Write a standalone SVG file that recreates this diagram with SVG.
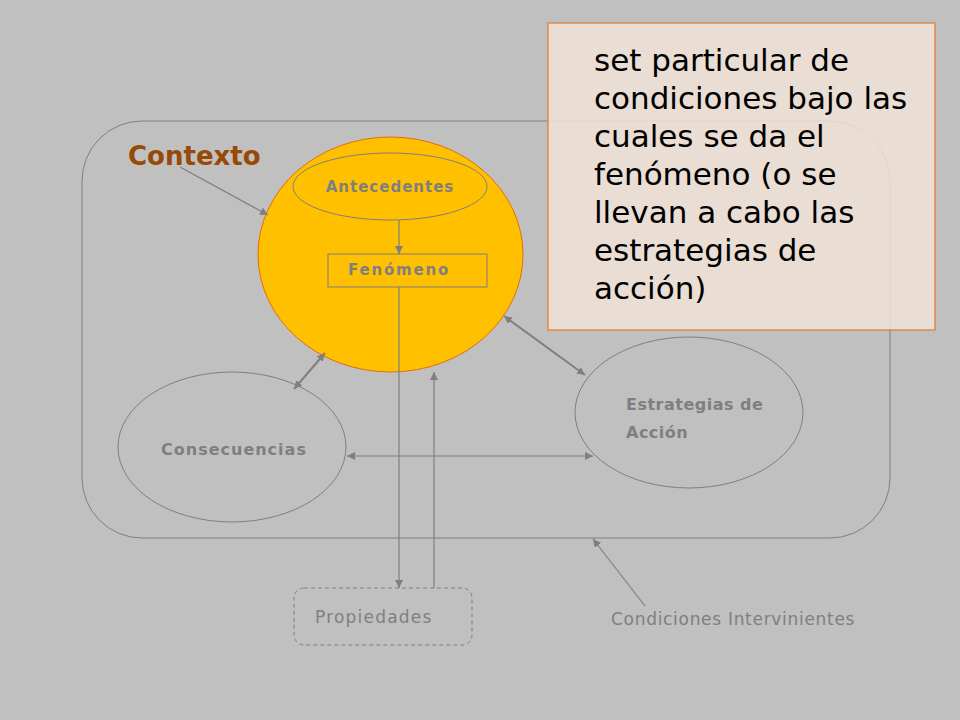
<svg xmlns="http://www.w3.org/2000/svg" width="960" height="720" viewBox="0 0 960 720">
<defs>
<marker id="ah" viewBox="0 0 10 10" refX="10" refY="5" markerWidth="8" markerHeight="8" markerUnits="userSpaceOnUse" orient="auto-start-reverse">
<path d="M0,0 L10,5 L0,10 z" fill="#7F7F7F"/>
</marker>
<style>
.ln{stroke:#7F7F7F;stroke-width:1.2;fill:none}
.lnb{stroke:#7F7F7F;stroke-width:2;fill:none}
.sh{stroke:#7F7F7F;stroke-width:1;fill:none}
.lb{font-family:"DejaVu Sans",sans-serif;font-weight:bold;fill:#7F7F7F}
.lt{font-family:"DejaVu Sans",sans-serif;fill:#7F7F7F}
</style>
</defs>
<rect width="960" height="720" fill="#C0C0C0"/>
<g id="contexto">
<rect x="82" y="121" width="808" height="417" rx="60" ry="60" class="sh"/>
<text x="128" y="165" font-family="DejaVu Sans, sans-serif" font-weight="bold" font-size="26" fill="#984807">Contexto</text>
</g>
<g id="nucleo">
<ellipse cx="390.5" cy="254.5" rx="132.5" ry="117.5" fill="#FFC000" stroke="#E46C0A" stroke-width="1"/>
</g>
<g id="antecedentes">
<ellipse cx="390" cy="186.5" rx="97" ry="33.5" class="sh"/>
<text x="390" y="192" text-anchor="middle" class="lb" font-size="15" letter-spacing="1">Antecedentes</text>
</g>
<g id="fenomeno">
<rect x="328" y="254" width="159" height="33" class="sh"/>
<text x="348" y="275" class="lb" font-size="15" letter-spacing="1.8">Fenómeno</text>
</g>
<g id="consecuencias">
<ellipse cx="232" cy="447" rx="114" ry="75" class="sh"/>
<text x="161" y="455" class="lb" font-size="16" letter-spacing="1">Consecuencias</text>
</g>
<g id="estrategias">
<ellipse cx="689" cy="412.5" rx="114" ry="75.5" class="sh"/>
<text class="lb" font-size="16" letter-spacing="0.5"><tspan x="626" y="410">Estrategias de</tspan><tspan x="626" y="438">Acción</tspan></text>
</g>
<g id="propiedades">
<rect x="294" y="588" width="178" height="57" rx="10" ry="10" class="sh" stroke-dasharray="4,3"/>
<text x="315" y="623" class="lt" font-size="17" letter-spacing="1.2">Propiedades</text>
</g>
<g id="condiciones">
<text x="611" y="625" class="lt" font-size="17" letter-spacing="0.7">Condiciones Intervinientes</text>
</g>
<g id="connectors">
<line x1="180" y1="167" x2="268" y2="215" class="ln" marker-end="url(#ah)"/>
<line x1="399" y1="220" x2="399" y2="254" class="ln" marker-end="url(#ah)"/>
<line x1="399" y1="287" x2="399" y2="588" class="ln" marker-end="url(#ah)"/>
<line x1="434" y1="588" x2="434" y2="372" class="ln" marker-end="url(#ah)"/>
<line x1="294" y1="389" x2="325" y2="353" class="lnb" marker-start="url(#ah)" marker-end="url(#ah)"/>
<line x1="504" y1="316" x2="585" y2="375" class="lnb" marker-start="url(#ah)" marker-end="url(#ah)"/>
<line x1="347" y1="456" x2="593" y2="456" class="ln" marker-start="url(#ah)" marker-end="url(#ah)"/>
<line x1="645" y1="606" x2="593" y2="539" class="ln" marker-end="url(#ah)"/>
</g>
<g id="nota">
<rect x="548" y="23" width="387" height="307" fill="#F1E2D6" fill-opacity="0.86" stroke="#E07B30" stroke-width="1.2"/>
<text font-family="DejaVu Sans, sans-serif" font-size="31" fill="#000000">
<tspan x="594" y="71">set particular de</tspan>
<tspan x="594" y="109">condiciones bajo las</tspan>
<tspan x="594" y="147">cuales se da el</tspan>
<tspan x="594" y="185">fenómeno (o se</tspan>
<tspan x="594" y="223">llevan a cabo las</tspan>
<tspan x="594" y="261">estrategias de</tspan>
<tspan x="594" y="299">acción)</tspan>
</text>
</g>
</svg>
